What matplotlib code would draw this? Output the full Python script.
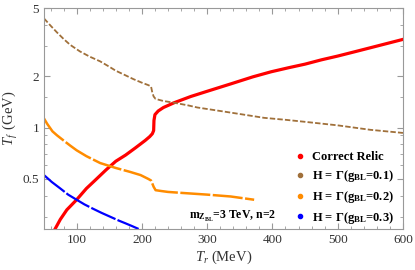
import matplotlib
matplotlib.use("Agg")
import matplotlib.pyplot as plt
from matplotlib.ticker import FixedLocator, NullFormatter, MultipleLocator

plt.rcParams['font.family'] = ['Liberation Serif', 'DejaVu Serif']
plt.rcParams['mathtext.fontset'] = 'custom'
plt.rcParams['mathtext.rm'] = 'Liberation Serif'
plt.rcParams['mathtext.it'] = 'Liberation Serif:italic'
plt.rcParams['mathtext.bf'] = 'Liberation Serif:bold'

# correct relic curve
relic_tr = [67, 75, 85, 100, 115, 128, 145, 160, 175, 190, 205, 212, 216, 218, 218.5, 220, 225, 233,
            250, 275, 300, 336, 370, 398, 425, 450, 475, 500, 525, 550, 575, 600]
relic_tf = [0.255, 0.29, 0.33, 0.378, 0.44, 0.49, 0.565, 0.635, 0.69, 0.76, 0.84, 0.885, 0.92, 0.96, 1.10, 1.19, 1.25, 1.31,
            1.40, 1.52, 1.63, 1.80, 1.98, 2.12, 2.24, 2.35, 2.49, 2.62, 2.77, 2.93, 3.10, 3.28]

# H = Gamma, g_BL = 0.1
g01_tr = [50, 60, 70, 80, 90, 105, 120, 136, 150, 160, 175, 187, 200, 210, 214, 216, 218, 221, 233, 248,
          270, 285, 320, 350, 387, 420, 450, 500, 550, 600]
g01_tf = [4.35, 3.95, 3.6, 3.3, 3.05, 2.79, 2.6, 2.44, 2.27, 2.15, 2.02, 1.92, 1.83, 1.77, 1.74, 1.6, 1.52, 1.47, 1.43, 1.40,
          1.35, 1.31, 1.25, 1.20, 1.14, 1.11, 1.08, 1.03, 0.97, 0.93]

# g_BL = 0.2
g02_tr = [50, 55, 63, 70, 80, 90, 100, 115, 136, 160, 182, 198, 210, 214, 216, 218, 221, 230, 240, 259, 300, 336, 372]
g02_tf = [1.13, 1.05, 0.95, 0.90, 0.84, 0.785, 0.736, 0.68, 0.62, 0.58, 0.55, 0.527, 0.50, 0.49, 0.47, 0.45, 0.43, 0.425,
          0.42, 0.415, 0.405, 0.395, 0.378]

# g_BL = 0.3
g03_tr = [50, 62, 75, 87, 100, 112, 125, 138, 152, 165, 175, 185, 195]
g03_tf = [0.527, 0.48, 0.44, 0.405, 0.378, 0.355, 0.335, 0.317, 0.30, 0.285, 0.275, 0.265, 0.255]

labels = ["Correct Relic",
          r"H = Γ(g$_{\mathbf{BL}}$=0.1)",
          r"H = Γ(g$_{\mathbf{BL}}$=0.2)",
          r"H = Γ(g$_{\mathbf{BL}}$=0.3)"]
colors = ["#ff0000", "#a0703a", "#ff8c00", "#0000ff"]

fig = plt.figure(figsize=(4.15, 2.7), dpi=100)
ax = fig.add_axes([0.106, 0.152, 0.865, 0.818])

ax.plot(relic_tr, relic_tf, color=colors[0], lw=2.3, solid_joinstyle='round')
ax.plot(g01_tr, g01_tf, color=colors[1], lw=1.3, ls=(0, (3, 1.2)))
ax.plot(g02_tr, g02_tf, color=colors[2], lw=1.8, ls=(0, (12, 1)))
ax.plot(g03_tr, g03_tf, color=colors[3], lw=1.6, ls=(0, (12, 1)))

for c, lab in zip(colors, labels):
    ax.plot([], [], 'o', color=c, ms=3, label=lab)

ax.set_yscale('log')
ax.set_xlim(50, 600)
ax.set_ylim(0.255, 5)

ax.yaxis.set_major_locator(FixedLocator([0.5, 1, 2, 5]))
ax.set_yticklabels(["0.5", "1", "2", "5"])
ax.yaxis.set_minor_locator(FixedLocator([0.3, 0.4, 0.6, 0.7, 0.8, 0.9, 1.5, 3, 4]))
ax.yaxis.set_minor_formatter(NullFormatter())
ax.xaxis.set_major_locator(FixedLocator([100, 200, 300, 400, 500, 600]))
ax.xaxis.set_minor_locator(MultipleLocator(20))

for s in ax.spines.values():
    s.set_color('#999999')
ax.tick_params(which='both', direction='in', top=True, right=True, color='#999999',
               labelsize=9.5, labelcolor='#333333')
ax.tick_params(which='major', length=4)
ax.tick_params(which='minor', length=2)

ax.set_xlabel(r"$T_r$ (MeV)", fontsize=10.5, color='#333333', labelpad=2)
ax.set_ylabel(r"$T_f$ $\,$(GeV)", fontsize=10.5, color='#333333', labelpad=2)

ax.text(0.525, 0.055, r"m$_{\mathbf{Z_{BL}}}$=3 TeV, n=2", transform=ax.transAxes,
        fontsize=8.5, fontweight='bold', ha='center', va='center')

ax.legend(loc='lower right', bbox_to_anchor=(1.0, -0.025), frameon=False,
          prop={'weight': 'bold', 'size': 9}, handletextpad=0.45,
          handlelength=1.0, labelspacing=0.38, borderaxespad=0.3)

fig.savefig("out.png", dpi=100)
